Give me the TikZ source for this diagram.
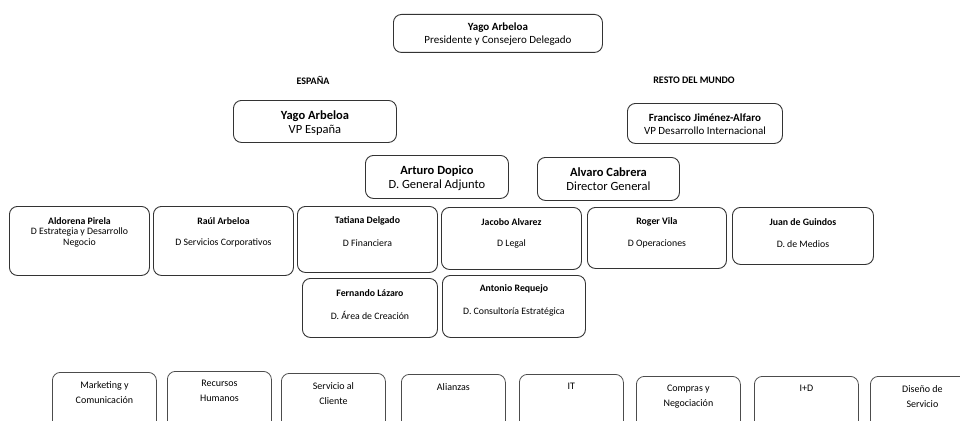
\documentclass[tikz,border=0pt]{standalone}
\usepackage{fontspec}
\setmainfont{Carlito}
\usetikzlibrary{positioning}

\tikzset{
  box/.style={draw=black!80, line width=0.9pt, rounded corners=8pt, inner sep=0pt, anchor=north west},
  unitbox/.style={box, draw=black!70, line width=0.8pt, minimum width=104pt, minimum height=70pt},
  who/.style={align=center, inner sep=0pt},
  big/.style={font=\fontsize{12.5}{14}\selectfont},
  mid/.style={font=\fontsize{11}{13}\selectfont},
  small/.style={font=\fontsize{9.8}{11}\selectfont},
  smallbf/.style={font=\fontsize{9.8}{11}\selectfont\bfseries},
  area/.style={font=\fontsize{10}{15}\selectfont}
}

\begin{document}
\begin{tikzpicture}[x=1pt, y=-1pt]
  \useasboundingbox (0,0) rectangle (960,420);

  % Presidencia
  \node[box, minimum width=209pt, minimum height=38pt] (pres) at (393,14) {};
  \node[who, mid] (pres-t) at ([yshift=-1pt]pres.center)
    {\textbf{Yago Arbeloa}\\Presidente y Consejero Delegado};

  % Regions
  \node[who, font=\fontsize{10}{12}\selectfont\bfseries] (es) at (313,80) {ESPAÑA};
  \node[who, font=\fontsize{10}{12}\selectfont\bfseries] (rm) at (694,80) {RESTO DEL MUNDO};

  % Vicepresidencias
  \node[box, minimum width=163pt, minimum height=42pt] (vpes) at (233,100) {};
  \node[who, big] (vpes-t) at ([yshift=-2pt]vpes.center)
    {\textbf{Yago Arbeloa}\\VP España};
  \node[box, minimum width=155pt, minimum height=40pt] (vpint) at (627,103) {};
  \node[who, mid] (vpint-t) at ([yshift=-1pt]vpint.center)
    {\textbf{Francisco Jiménez-Alfaro}\\VP Desarrollo Internacional};

  % Direccion general
  \node[box, minimum width=143pt, minimum height=43pt] (dga) at (365,155) {};
  \node[who, big] (dga-t) at ([yshift=-1pt]dga.center)
    {\textbf{Arturo Dopico}\\D. General Adjunto};
  \node[box, minimum width=142pt, minimum height=43pt] (dg) at (537,157) {};
  \node[who, big] (dg-t) at (dg.center)
    {\textbf{Alvaro Cabrera}\\Director General};

  % Directores, first row
  \node[box, minimum width=140pt, minimum height=69pt] (est) at (9,206) {};
  \node[box, minimum width=140pt, minimum height=69pt] (serv) at (153,206) {};
  \node[box, minimum width=140pt, minimum height=66pt] (fin) at (297,206) {};
  \node[box, minimum width=140pt, minimum height=62pt] (leg) at (441,207) {};
  \node[box, minimum width=139pt, minimum height=61pt] (ope) at (587,207) {};
  \node[box, minimum width=141pt, minimum height=57pt] (med) at (732,207) {};

  \foreach \b/\n/\t in {serv/Raúl Arbeloa/D Servicios Corporativos,
                        fin/Tatiana Delgado/D Financiera,
                        leg/Jacobo Alvarez/D Legal,
                        ope/Roger Vila/D Operaciones,
                        med/Juan de Guindos/D. de Medios}
  {
    \node[who, smallbf] (\b-n) at ([yshift=-15pt]\b.north) {\n};
    \node[who, small] (\b-t) at ([yshift=-37pt]\b.north) {\t};
  }
  \node[who, smallbf] (est-n) at ([yshift=-15pt]est.north) {Aldorena Pirela};
  \node[who, small] (est-t) at ([yshift=-31.5pt]est.north)
    {D Estrategia y Desarrollo\\Negocio};

  % Directores, second row
  \node[box, minimum width=135pt, minimum height=59pt] (crea) at (302,278) {};
  \node[who, smallbf] (crea-n) at ([yshift=-15pt]crea.north) {Fernando Lázaro};
  \node[who, small] (crea-t) at ([yshift=-37pt]crea.north) {D. Área de Creación};
  \node[box, minimum width=143pt, minimum height=62pt] (cons) at (442,275) {};
  \node[who, smallbf] (cons-n) at ([yshift=-14pt]cons.north) {Antonio Requejo};
  \node[who, small] (cons-t) at ([yshift=-37pt]cons.north) {D. Consultoría Estratégica};

  % Areas
  \foreach \b/\x/\y/\t in {mkt/52/372/Marketing y\\Comunicación,
                           rrhh/167/371/Recursos\\Humanos,
                           cli/281/373/Servicio al\\Cliente,
                           ali/401/374/Alianzas,
                           it/519/374/IT,
                           com/636/376/Compras y\\Negociación,
                           id/754/376/I+D,
                           dis/870/376/Diseño de\\Servicio}
  {
    \node[unitbox] (\b) at (\x,\y) {};
    \node[who, area, anchor=north] (\b-t) at ([yshift=-9pt]\b.north) {\t};
  }
\end{tikzpicture}
\end{document}
